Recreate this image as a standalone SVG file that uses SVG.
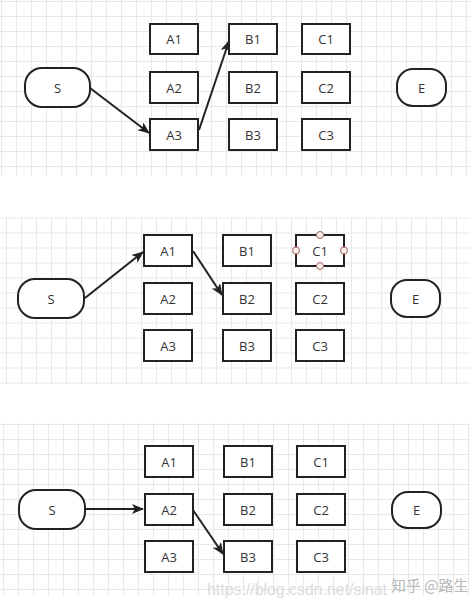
<svg xmlns="http://www.w3.org/2000/svg" width="476" height="607" viewBox="0 0 476 607">
<defs>
<pattern id="g1" x="1" y="1" width="15" height="15" patternUnits="userSpaceOnUse"><path d="M0.5 0V15M0 0.5H15" stroke="#e8e8e8" stroke-width="1" fill="none"/></pattern>
<pattern id="g2" x="6" y="217.5" width="15" height="15" patternUnits="userSpaceOnUse"><path d="M0.5 0V15M0 0.5H15" stroke="#e8e8e8" stroke-width="1" fill="none"/></pattern>
<pattern id="g3" x="3" y="424" width="15" height="15" patternUnits="userSpaceOnUse"><path d="M0.5 0V15M0 0.5H15" stroke="#e8e8e8" stroke-width="1" fill="none"/></pattern>
<marker id="arr" viewBox="0 0 12 10" refX="11" refY="5" markerWidth="12" markerHeight="10" markerUnits="userSpaceOnUse" orient="auto"><path d="M0 0L12 5L0 10L3 5Z" fill="#222"/></marker>
</defs>
<style>
.box{fill:#fff;stroke:#222;stroke-width:2}
.t{font-family:"Open Sans","Noto Sans","Liberation Sans",sans-serif;font-size:13px;fill:#333;text-anchor:middle;dominant-baseline:central}
.c{fill:none;stroke:#222;stroke-width:2;marker-end:url(#arr)}
.h{fill:#f8eeee;stroke:#a86060;stroke-width:1}
</style>
<rect width="476" height="607" fill="#fff"/>
<rect x="0" y="0" width="471" height="176" fill="url(#g1)"/>
<rect x="0" y="217" width="470" height="167" fill="url(#g2)"/>
<rect x="0" y="423" width="470" height="172" fill="url(#g3)"/>

<g id="connectors">
<path class="c" d="M90 88L149 133"/>
<path class="c" d="M199 130L229 41"/>
<path class="c" d="M85 298L143 252"/>
<path class="c" d="M193 251L222 295"/>
<path class="c" d="M85 509L143 509"/>
<path class="c" d="M193 510L223 554"/>
</g>

<!-- Panel 1 -->
<g id="p1-S"><rect class="box" x="25" y="68" width="65" height="39" rx="17"/><text class="t" x="57.5" y="87.5">S</text></g>
<g id="p1-A1"><rect class="box" x="150" y="24" width="48" height="30"/><text class="t" x="174" y="39">A1</text></g>
<g id="p1-A2"><rect class="box" x="150" y="72" width="48" height="31"/><text class="t" x="174" y="87.5">A2</text></g>
<g id="p1-A3"><rect class="box" x="150" y="119" width="48" height="31"/><text class="t" x="174" y="134.5">A3</text></g>
<g id="p1-B1"><rect class="box" x="229" y="24" width="48" height="30"/><text class="t" x="253" y="39">B1</text></g>
<g id="p1-B2"><rect class="box" x="229" y="72" width="48" height="31"/><text class="t" x="253" y="87.5">B2</text></g>
<g id="p1-B3"><rect class="box" x="229" y="119" width="48" height="31"/><text class="t" x="253" y="134.5">B3</text></g>
<g id="p1-C1"><rect class="box" x="302" y="24" width="48" height="30"/><text class="t" x="326" y="39">C1</text></g>
<g id="p1-C2"><rect class="box" x="302" y="72" width="48" height="31"/><text class="t" x="326" y="87.5">C2</text></g>
<g id="p1-C3"><rect class="box" x="302" y="119" width="48" height="31"/><text class="t" x="326" y="134.5">C3</text></g>
<g id="p1-E"><rect class="box" x="397" y="69" width="49" height="37" rx="16"/><text class="t" x="421.5" y="87.5">E</text></g>

<!-- Panel 2 -->
<g id="p2-S"><rect class="box" x="18" y="279" width="66" height="39" rx="17"/><text class="t" x="51" y="298.5">S</text></g>
<g id="p2-A1"><rect class="box" x="144" y="235" width="48" height="31"/><text class="t" x="168" y="250.5">A1</text></g>
<g id="p2-A2"><rect class="box" x="144" y="283" width="48" height="31"/><text class="t" x="168" y="298.5">A2</text></g>
<g id="p2-A3"><rect class="box" x="144" y="330" width="48" height="31"/><text class="t" x="168" y="345.5">A3</text></g>
<g id="p2-B1"><rect class="box" x="223" y="235" width="48" height="31"/><text class="t" x="247" y="250.5">B1</text></g>
<g id="p2-B2"><rect class="box" x="223" y="283" width="48" height="31"/><text class="t" x="247" y="298.5">B2</text></g>
<g id="p2-B3"><rect class="box" x="223" y="330" width="48" height="31"/><text class="t" x="247" y="345.5">B3</text></g>
<g id="p2-C1"><rect class="box" x="296" y="235" width="48" height="31"/><text class="t" x="320" y="250.5">C1</text>
<circle class="h" cx="320" cy="235" r="3.5"/><circle class="h" cx="320" cy="266" r="3.5"/><circle class="h" cx="296" cy="250.5" r="3.5"/><circle class="h" cx="344" cy="250.5" r="3.5"/></g>
<g id="p2-C2"><rect class="box" x="296" y="283" width="48" height="31"/><text class="t" x="320" y="298.5">C2</text></g>
<g id="p2-C3"><rect class="box" x="296" y="330" width="48" height="31"/><text class="t" x="320" y="345.5">C3</text></g>
<g id="p2-E"><rect class="box" x="391" y="280" width="49" height="37" rx="16"/><text class="t" x="415.5" y="298.5">E</text></g>

<!-- Panel 3 -->
<g id="p3-S"><rect class="box" x="19" y="490" width="66" height="39" rx="17"/><text class="t" x="52" y="509.5">S</text></g>
<g id="p3-A1"><rect class="box" x="145" y="446" width="48" height="31"/><text class="t" x="169" y="461.5">A1</text></g>
<g id="p3-A2"><rect class="box" x="145" y="494" width="48" height="31"/><text class="t" x="169" y="509.5">A2</text></g>
<g id="p3-A3"><rect class="box" x="145" y="541" width="48" height="31"/><text class="t" x="169" y="556.5">A3</text></g>
<g id="p3-B1"><rect class="box" x="224" y="446" width="48" height="31"/><text class="t" x="248" y="461.5">B1</text></g>
<g id="p3-B2"><rect class="box" x="224" y="494" width="48" height="31"/><text class="t" x="248" y="509.5">B2</text></g>
<g id="p3-B3"><rect class="box" x="224" y="541" width="48" height="31"/><text class="t" x="248" y="556.5">B3</text></g>
<g id="p3-C1"><rect class="box" x="297" y="446" width="48" height="31"/><text class="t" x="321" y="461.5">C1</text></g>
<g id="p3-C2"><rect class="box" x="297" y="494" width="48" height="31"/><text class="t" x="321" y="509.5">C2</text></g>
<g id="p3-C3"><rect class="box" x="297" y="541" width="48" height="31"/><text class="t" x="321" y="556.5">C3</text></g>
<g id="p3-E"><rect class="box" x="392" y="492" width="49" height="36" rx="16"/><text class="t" x="416.5" y="510">E</text></g>

<g id="watermark">
<text x="207" y="595" font-family="'Liberation Sans',sans-serif" font-size="17" fill="#dcdcdc" textLength="180" lengthAdjust="spacingAndGlyphs">https://blog.csdn.net/sinat</text>
<text x="391" y="591" font-family="'Noto Sans CJK SC',sans-serif" font-size="15" fill="#b8b8b8">知乎 @路生</text>
</g>
</svg>
